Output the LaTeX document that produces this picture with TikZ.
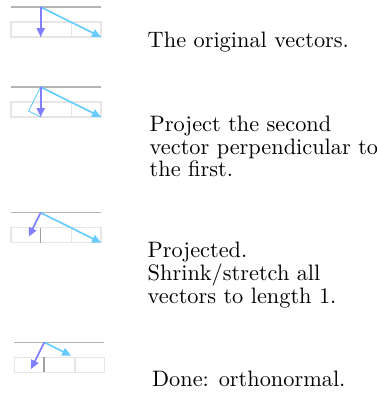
\documentclass[tikz,border=0pt]{standalone}
\usepackage{tikz}
\usetikzlibrary{arrows.meta, positioning, calc}
\definecolor{gsPurple}{HTML}{7F7FFF}
\definecolor{gsCyan}{HTML}{66CCFF}
\definecolor{gsRule}{HTML}{B4B4B4}
\definecolor{gsCell}{HTML}{E6E6E6}
\definecolor{gsTick}{HTML}{A0A0A0}
\tikzset{
  gsvec/.style={-{Triangle[length=4pt, width=3.6pt]}, line width=0.75pt},
  gscap/.style={anchor=base west, align=left, inner sep=0pt,
                font=\fontsize{10}{10.1}\selectfont},
}

\begin{document}
\begin{tikzpicture}[x=0.448pt, y=-0.448pt,
  cellline/.style={draw=gsCell, line width=0.5pt},
  topline/.style={draw=gsRule, line width=0.6pt}]
  \useasboundingbox (0,0) rectangle (376,397);
  % grid under each pair: left edge / top rule
  \foreach \gx/\gy in {11/7, 11/87, 11/212.7, 14.3/342.3}{
    \draw[cellline] (\gx,\gy+15) rectangle ++(90,15);
    \draw[cellline] (\gx+60.7,\gy+15) -- ++(0,15);
    \draw[draw=gsTick, line width=0.6pt] (\gx+29.7,\gy+15) -- ++(0,15);
    \draw[topline] (\gx,\gy) -- ++(90,0);
  }
  % original vectors
  \coordinate (o1) at (40.7,7);
  \coordinate (a1) at (40.7,37);
  \coordinate (b1) at (101,37);
  \draw[gsvec, gsCyan] (o1) -- (b1);
  \draw[gsvec, gsPurple] (o1) -- (a1);
  % projection
  \coordinate (o2) at (40.7,87);
  \coordinate (a2) at (40.7,117);
  \coordinate (b2) at (101,117);
  \coordinate (p2) at (28.7,111);
  \draw[gsCyan, line width=0.4pt] (o2) -- (p2) -- (a2);
  \draw[gsvec, gsCyan] (o2) -- (b2);
  \draw[gsvec, gsPurple] (o2) -- (a2);
  % projected
  \coordinate (o3) at (40.7,212.7);
  \coordinate (a3) at (28.7,236.7);
  \coordinate (b3) at (101,242.7);
  \draw[gsvec, gsCyan] (o3) -- (b3);
  \draw[gsvec, gsPurple] (o3) -- (a3);
  % normalised
  \coordinate (o4) at (44.3,342.3);
  \coordinate (a4) at (30.9,369.1);
  \coordinate (b4) at (71.1,355.7);
  \draw[gsvec, gsCyan] (o4) -- (b4);
  \draw[gsvec, gsPurple] (o4) -- (a4);
  % captions (base = last line)
  \node[gscap] (t1) at (147.3,48) {The original vectors.};
  \node[gscap] (t2) at (149.3,176.7) {Project the second\\vector perpendicular to\\the first.};
  \node[gscap] (t3) at (147.3,303) {Projected.\\Shrink/stretch all\\vectors to length 1.};
  \node[gscap] (t4) at (151.7,386.7) {Done: orthonormal.};
\end{tikzpicture}
\end{document}
